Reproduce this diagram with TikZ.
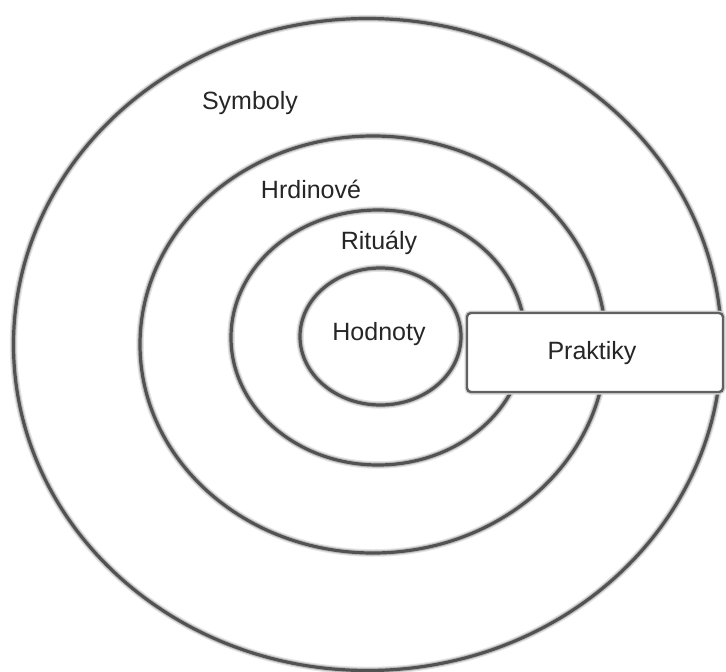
\documentclass[tikz,border=0pt]{standalone}
\usepackage{fontspec}
\setmainfont{Liberation Sans}
\begin{document}
\begin{tikzpicture}[x=1pt,y=-1pt,
  ring/.style={draw=black!68, line width=3.2pt,
    preaction={draw=gray!22, line width=7.5pt},
    preaction={draw=gray!50, line width=5.2pt}},
  boxstyle/.style={draw=black!62, line width=2.4pt, fill=white, rounded corners=4pt,
    preaction={draw=gray!35, line width=5pt}},
  lbl/.style={font=\fontsize{25}{29}\selectfont, text=black!85, inner sep=0pt}]
\useasboundingbox (0,0) rectangle (726,672);
\fill[white] (0,0) rectangle (726,672);
% rings
\draw[ring] (367.5,344.5) ellipse [x radius=354, y radius=326];
\draw[ring] (373,344.5) ellipse [x radius=233, y radius=208.5];
\draw[ring] (378,337.5) ellipse [x radius=147, y radius=127.5];
\draw[ring] (380.5,336.5) ellipse [x radius=80.5, y radius=68.5];
% Praktiky box
\draw[boxstyle] (467,313) rectangle (723,392);
% labels
\node[lbl] (symboly) at (250,103) {Symboly};
\node[lbl] (hrdinove) at (311,189) {Hrdinové};
\node[lbl] (ritualy) at (379,243) {Rituály};
\node[lbl] (hodnoty) at (379,334) {Hodnoty};
\node[lbl] (praktiky) at (592,353) {Praktiky};
\end{tikzpicture}
\end{document}
